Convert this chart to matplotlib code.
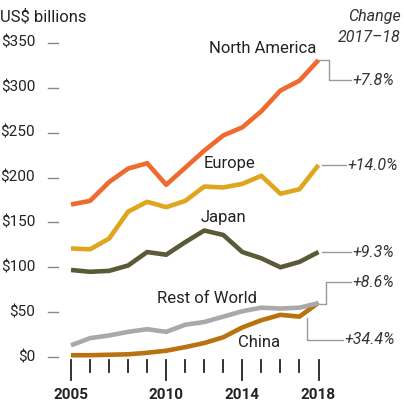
import numpy as np
import matplotlib
matplotlib.use('Agg')
import matplotlib.pyplot as plt

years = list(range(2005, 2019))
north_america = [170, 174, 195, 210, 216, 192, 211, 230, 247, 256, 274, 297, 308, 331]
europe = [121, 120, 132, 162, 173, 167, 174, 190, 189, 193, 202, 182, 187, 214]
japan = [97, 95, 96, 102, 117, 114, 128, 141, 136, 117, 110, 100, 106, 117]
rest_of_world = [13, 21, 24, 28, 31, 28, 36, 39, 45, 51, 55, 54, 55, 60]
china = [2, 2, 2.5, 3, 4.7, 7, 11, 15.6, 22, 33, 41, 47, 45, 60.5]
changes = ['+7.8%', '+14.0%', '+9.3%', '+8.6%', '+34.4%']
yticks = [0, 50, 100, 150, 200, 250, 300, 350]
labeled_years = [2005, 2010, 2014, 2018]

W, H = 404, 415
fig = plt.figure(figsize=(W / 100, H / 100), dpi=100)
# axes placed so that 2005..2018 -> px 71..318, $0..$350 -> px 357..43
ax = fig.add_axes([71 / W, (H - 357) / H, (318.5 - 71) / W, (357 - 43) / H])
ax.set_xlim(2005, 2018)
ax.set_ylim(0, 350)
ax.axis('off')

font = 'Roboto'
c_na, c_eu, c_jp, c_rw, c_cn = '#ef6a2e', '#dfa51d', '#5a5a37', '#a9a9a9', '#b8720f'
lw = 3.3
ax.plot(years, rest_of_world, color=c_rw, lw=lw, clip_on=False, solid_capstyle='butt')
ax.plot(years, china, color=c_cn, lw=lw, clip_on=False, solid_capstyle='butt', zorder=1.9)
ax.plot(years, japan, color=c_jp, lw=lw, clip_on=False, solid_capstyle='butt')
ax.plot(years, europe, color=c_eu, lw=lw, clip_on=False, solid_capstyle='butt')
ax.plot(years, north_america, color=c_na, lw=lw, clip_on=False, solid_capstyle='butt')

# pixel helpers: convert px offsets to data units
dx = 13 / (318.5 - 71)   # years per px
dy = 350 / (357 - 43)    # $ per px

# y tick labels and dashes
for v in yticks:
    ax.text(2005 - 36 * dx, v, f'${v}', ha='right', va='center', fontsize=11,
            family=font, color='#222222', clip_on=False)
    ax.plot([2005 - 23 * dx, 2005 - 13 * dx], [v, v], color='#888888', lw=1, clip_on=False)

# x ticks
for yr in years:
    ln = 20 if yr in labeled_years else 12
    ax.plot([yr, yr], [-3 * dy, -(3 + ln) * dy], color='#222222', lw=1.3, clip_on=False)
for yr in labeled_years:
    ax.text(yr, -38 * dy, str(yr), ha='center', va='center', fontsize=11,
            fontweight='bold', family=font, color='#222222', clip_on=False)

# series labels
lab = dict(fontsize=12, family=font, color='#222222', ha='center', va='center')
ax.text(2015.05, 344, 'North America', **lab)
ax.text(2013.35, 216, 'Europe', **lab)
ax.text(2013.0, 155, 'Japan', **lab)
ax.text(2012.15, 65, 'Rest of World', **lab)
ax.text(2014.9, 16, 'China', **lab)

# connectors to change labels
gc = '#999999'
x0 = 2018
ax.plot([x0, x0 + 10 * dx, x0 + 10 * dx, x0 + 32 * dx],
        [north_america[-1], north_america[-1], north_america[-1] - 20 * dy, north_america[-1] - 20 * dy],
        color=gc, lw=1, clip_on=False)
ax.plot([x0 + 3 * dx, x0 + 27 * dx], [europe[-1], europe[-1]], color=gc, lw=1, clip_on=False)
ax.plot([x0 + 3 * dx, x0 + 32 * dx], [japan[-1], japan[-1]], color=gc, lw=1, clip_on=False)
ax.plot([x0 + 1 * dx, x0 + 7 * dx, x0 + 7 * dx, x0 + 32 * dx],
        [rest_of_world[-1] - 1, rest_of_world[-1] - 1, rest_of_world[-1] + 21 * dy, rest_of_world[-1] + 21 * dy],
        color=gc, lw=1, clip_on=False)
ax.plot([x0 - 12 * dx, x0 - 12 * dx, x0 + 24 * dx],
        [china[-2] - 1, china[-2] - 23 * dy, china[-2] - 23 * dy],
        color=gc, lw=1, clip_on=False)

ch = dict(fontsize=11.5, family=font, style='italic', color='#333333', ha='left', va='center')
ax.text(x0 + 34 * dx, north_america[-1] - 20 * dy, changes[0], **ch)
ax.text(x0 + 29 * dx, europe[-1], changes[1], **ch)
ax.text(x0 + 34 * dx, japan[-1], changes[2], **ch)
ax.text(x0 + 34 * dx, rest_of_world[-1] + 21 * dy, changes[3], **ch)
ax.text(x0 + 26 * dx, china[-2] - 23 * dy, changes[4], **ch)

# header texts
fig.text(0 / W, 1 - 17 / H, 'US$ billions', ha='left', va='center', fontsize=12,
         family=font, color='#222222')
fig.text(401 / W, 1 - 17 / H, 'Change', ha='right', va='center', fontsize=11.5,
         family=font, style='italic', color='#333333')
fig.text(401 / W, 1 - 37 / H, '2017\u201318', ha='right', va='center', fontsize=11.5,
         family=font, style='italic', color='#333333')

fig.savefig('out.png', dpi=100, facecolor='white')
